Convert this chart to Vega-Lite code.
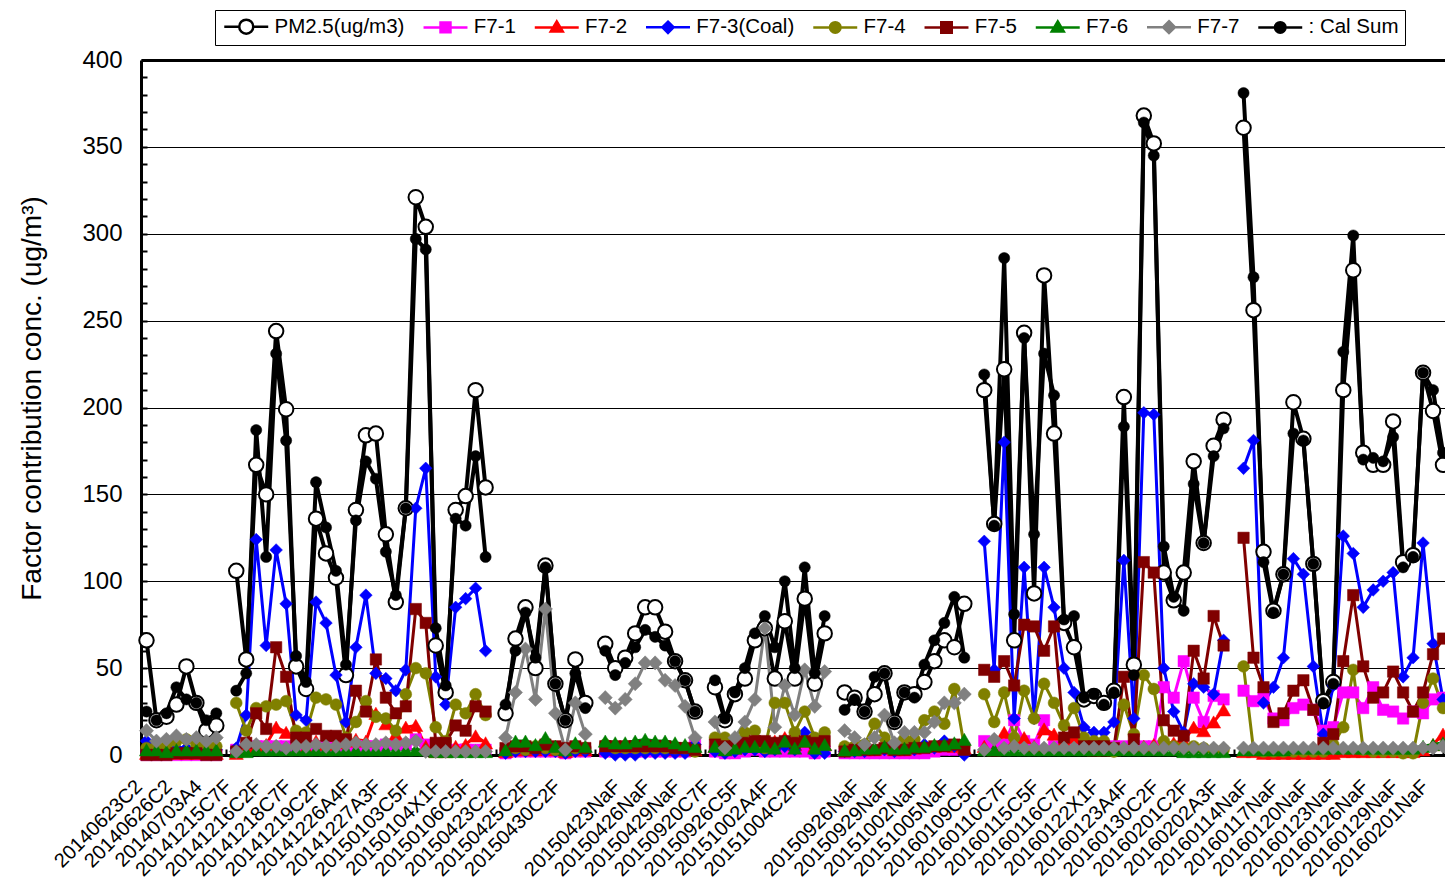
{
  "$schema": "https://vega.github.io/schema/vega-lite/v6.json",
  "width": 1304,
  "height": 695,
  "autosize": {"type": "none"},
  "padding": {"left": 141, "top": 60, "right": 0, "bottom": 127},
  "config": {
    "view": {"stroke": null},
    "font": "Liberation Sans",
    "axis": {"labelFont": "Liberation Sans", "titleFont": "Liberation Sans"},
    "legend": {"labelFont": "Liberation Sans"}
  },
  "data": {"values": [
    {"i":0,"g":1,"s0":66,"s1":0,"s2":1,"s3":8,"s4":4,"s5":0,"s6":3,"s7":14,"s8":25},
    {"i":1,"g":1,"s0":20,"s1":0,"s2":1,"s3":4,"s4":5,"s5":0,"s6":3,"s7":8,"s8":20},
    {"i":2,"g":1,"s0":22,"s1":0,"s2":1,"s3":3,"s4":5,"s5":0,"s6":2,"s7":9,"s8":24},
    {"i":3,"g":1,"s0":29,"s1":0,"s2":1,"s3":4,"s4":8,"s5":1,"s6":3,"s7":11,"s8":39},
    {"i":4,"g":1,"s0":51,"s1":0,"s2":1,"s3":4,"s4":9,"s5":1,"s6":3,"s7":9,"s8":32},
    {"i":5,"g":1,"s0":30,"s1":0,"s2":1,"s3":3,"s4":6,"s5":1,"s6":3,"s7":10,"s8":30},
    {"i":6,"g":1,"s0":14,"s1":0,"s2":1,"s3":3,"s4":6,"s5":0,"s6":3,"s7":8,"s8":20},
    {"i":7,"g":1,"s0":17,"s1":0,"s2":1,"s3":3,"s4":5,"s5":0,"s6":3,"s7":10,"s8":24},
    {"i":9,"g":2,"s0":106,"s1":3,"s2":1,"s3":4,"s4":30,"s5":2,"s6":2,"s7":2,"s8":37},
    {"i":10,"g":2,"s0":55,"s1":4,"s2":4,"s3":23,"s4":14,"s5":7,"s6":2,"s7":6,"s8":47},
    {"i":11,"g":2,"s0":167,"s1":5,"s2":5,"s3":124,"s4":27,"s5":24,"s6":3,"s7":6,"s8":187},
    {"i":12,"g":2,"s0":150,"s1":5,"s2":6,"s3":63,"s4":28,"s5":15,"s6":3,"s7":5,"s8":114},
    {"i":13,"g":2,"s0":244,"s1":5,"s2":16,"s3":118,"s4":29,"s5":62,"s6":3,"s7":5,"s8":231},
    {"i":14,"g":2,"s0":199,"s1":5,"s2":13,"s3":87,"s4":31,"s5":45,"s6":3,"s7":4,"s8":181},
    {"i":15,"g":2,"s0":51,"s1":5,"s2":8,"s3":23,"s4":14,"s5":10,"s6":3,"s7":5,"s8":57},
    {"i":16,"g":2,"s0":38,"s1":5,"s2":4,"s3":20,"s4":13,"s5":10,"s6":3,"s7":5,"s8":42},
    {"i":17,"g":2,"s0":136,"s1":5,"s2":8,"s3":88,"s4":33,"s5":15,"s6":3,"s7":6,"s8":157},
    {"i":18,"g":2,"s0":116,"s1":5,"s2":6,"s3":76,"s4":32,"s5":11,"s6":3,"s7":5,"s8":131},
    {"i":19,"g":2,"s0":102,"s1":5,"s2":7,"s3":46,"s4":29,"s5":11,"s6":3,"s7":5,"s8":106},
    {"i":20,"g":2,"s0":46,"s1":5,"s2":8,"s3":19,"s4":10,"s5":9,"s6":3,"s7":6,"s8":52},
    {"i":21,"g":2,"s0":141,"s1":5,"s2":9,"s3":62,"s4":19,"s5":37,"s6":3,"s7":7,"s8":135},
    {"i":22,"g":2,"s0":184,"s1":5,"s2":8,"s3":92,"s4":31,"s5":25,"s6":3,"s7":6,"s8":169},
    {"i":23,"g":2,"s0":185,"s1":5,"s2":24,"s3":47,"s4":22,"s5":55,"s6":3,"s7":6,"s8":159},
    {"i":24,"g":2,"s0":127,"s1":6,"s2":18,"s3":44,"s4":21,"s5":33,"s6":3,"s7":7,"s8":117},
    {"i":25,"g":2,"s0":88,"s1":6,"s2":12,"s3":37,"s4":14,"s5":24,"s6":3,"s7":6,"s8":92},
    {"i":26,"g":2,"s0":142,"s1":6,"s2":16,"s3":49,"s4":35,"s5":28,"s6":3,"s7":7,"s8":142},
    {"i":27,"g":2,"s0":321,"s1":9,"s2":17,"s3":142,"s4":50,"s5":84,"s6":3,"s7":8,"s8":297},
    {"i":28,"g":2,"s0":304,"s1":6,"s2":5,"s3":165,"s4":47,"s5":76,"s6":3,"s7":2,"s8":291},
    {"i":29,"g":2,"s0":63,"s1":4,"s2":2,"s3":45,"s4":16,"s5":7,"s6":2,"s7":2,"s8":73},
    {"i":30,"g":2,"s0":36,"s1":3,"s2":2,"s3":29,"s4":8,"s5":7,"s6":2,"s7":2,"s8":40},
    {"i":31,"g":2,"s0":141,"s1":3,"s2":5,"s3":85,"s4":29,"s5":17,"s6":2,"s7":2,"s8":136},
    {"i":32,"g":2,"s0":149,"s1":3,"s2":6,"s3":90,"s4":24,"s5":14,"s6":2,"s7":2,"s8":132},
    {"i":33,"g":2,"s0":210,"s1":3,"s2":11,"s3":96,"s4":35,"s5":28,"s6":2,"s7":2,"s8":172},
    {"i":34,"g":2,"s0":154,"s1":3,"s2":7,"s3":60,"s4":23,"s5":25,"s6":2,"s7":2,"s8":114},
    {"i":36,"g":3,"s0":24,"s1":1,"s2":2,"s3":1,"s4":3,"s5":4,"s6":3,"s7":10,"s8":29},
    {"i":37,"g":3,"s0":67,"s1":2,"s2":3,"s3":2,"s4":4,"s5":5,"s6":8,"s7":36,"s8":60},
    {"i":38,"g":3,"s0":85,"s1":2,"s2":3,"s3":2,"s4":3,"s5":5,"s6":8,"s7":61,"s8":82},
    {"i":39,"g":3,"s0":50,"s1":2,"s2":3,"s3":2,"s4":5,"s5":4,"s6":6,"s7":32,"s8":56},
    {"i":40,"g":3,"s0":109,"s1":2,"s2":4,"s3":2,"s4":4,"s5":6,"s6":10,"s7":84,"s8":108},
    {"i":41,"g":3,"s0":41,"s1":2,"s2":3,"s3":2,"s4":3,"s5":5,"s6":5,"s7":24,"s8":41},
    {"i":42,"g":3,"s0":20,"s1":1,"s2":2,"s3":1,"s4":3,"s5":4,"s6":3,"s7":3,"s8":20},
    {"i":43,"g":3,"s0":55,"s1":2,"s2":3,"s3":2,"s4":4,"s5":5,"s6":7,"s7":30,"s8":47},
    {"i":44,"g":3,"s0":30,"s1":2,"s2":3,"s3":2,"s4":4,"s5":4,"s6":5,"s7":12,"s8":27},
    {"i":46,"g":4,"s0":64,"s1":2,"s2":4,"s3":1,"s4":6,"s5":5,"s6":8,"s7":33,"s8":60},
    {"i":47,"g":4,"s0":50,"s1":2,"s2":4,"s3":0,"s4":4,"s5":5,"s6":7,"s7":27,"s8":46},
    {"i":48,"g":4,"s0":56,"s1":2,"s2":4,"s3":0,"s4":4,"s5":5,"s6":7,"s7":32,"s8":53},
    {"i":49,"g":4,"s0":70,"s1":2,"s2":4,"s3":0,"s4":4,"s5":5,"s6":8,"s7":41,"s8":62},
    {"i":50,"g":4,"s0":85,"s1":2,"s2":4,"s3":1,"s4":4,"s5":5,"s6":9,"s7":53,"s8":72},
    {"i":51,"g":4,"s0":85,"s1":2,"s2":4,"s3":1,"s4":4,"s5":5,"s6":8,"s7":53,"s8":68},
    {"i":52,"g":4,"s0":71,"s1":2,"s2":4,"s3":1,"s4":4,"s5":5,"s6":8,"s7":43,"s8":63},
    {"i":53,"g":4,"s0":54,"s1":2,"s2":3,"s3":1,"s4":4,"s5":4,"s6":7,"s7":40,"s8":54},
    {"i":54,"g":4,"s0":43,"s1":2,"s2":3,"s3":1,"s4":4,"s5":4,"s6":6,"s7":28,"s8":43},
    {"i":55,"g":4,"s0":25,"s1":6,"s2":3,"s3":6,"s4":2,"s5":3,"s6":5,"s7":10,"s8":25},
    {"i":57,"g":5,"s0":39,"s1":2,"s2":5,"s3":2,"s4":10,"s5":6,"s6":5,"s7":19,"s8":43},
    {"i":58,"g":5,"s0":20,"s1":1,"s2":4,"s3":1,"s4":10,"s5":5,"s6":3,"s7":4,"s8":21},
    {"i":59,"g":5,"s0":35,"s1":1,"s2":4,"s3":2,"s4":8,"s5":5,"s6":4,"s7":10,"s8":36},
    {"i":60,"g":5,"s0":44,"s1":2,"s2":5,"s3":3,"s4":13,"s5":7,"s6":5,"s7":19,"s8":50},
    {"i":61,"g":5,"s0":66,"s1":3,"s2":6,"s3":3,"s4":14,"s5":8,"s6":5,"s7":32,"s8":70},
    {"i":62,"g":5,"s0":73,"s1":2,"s2":6,"s3":2,"s4":4,"s5":8,"s6":5,"s7":73,"s8":80},
    {"i":63,"g":5,"s0":44,"s1":2,"s2":8,"s3":3,"s4":30,"s5":7,"s6":4,"s7":16,"s8":62},
    {"i":64,"g":5,"s0":77,"s1":2,"s2":10,"s3":5,"s4":30,"s5":8,"s6":8,"s7":40,"s8":100},
    {"i":65,"g":5,"s0":44,"s1":2,"s2":6,"s3":3,"s4":13,"s5":7,"s6":4,"s7":23,"s8":50},
    {"i":66,"g":5,"s0":90,"s1":2,"s2":8,"s3":13,"s4":25,"s5":8,"s6":8,"s7":49,"s8":108},
    {"i":67,"g":5,"s0":41,"s1":1,"s2":5,"s3":1,"s4":10,"s5":7,"s6":4,"s7":28,"s8":47},
    {"i":68,"g":5,"s0":70,"s1":2,"s2":6,"s3":1,"s4":13,"s5":8,"s6":6,"s7":48,"s8":80},
    {"i":70,"g":6,"s0":36,"s1":1,"s2":3,"s3":2,"s4":5,"s5":2,"s6":3,"s7":14,"s8":26},
    {"i":71,"g":6,"s0":33,"s1":1,"s2":3,"s3":2,"s4":5,"s5":3,"s6":3,"s7":10,"s8":32},
    {"i":72,"g":6,"s0":25,"s1":1,"s2":3,"s3":2,"s4":6,"s5":3,"s6":4,"s7":6,"s8":25},
    {"i":73,"g":6,"s0":35,"s1":1,"s2":3,"s3":3,"s4":18,"s5":3,"s6":4,"s7":10,"s8":45},
    {"i":74,"g":6,"s0":47,"s1":1,"s2":4,"s3":3,"s4":10,"s5":4,"s6":5,"s7":23,"s8":47},
    {"i":75,"g":6,"s0":19,"s1":1,"s2":3,"s3":2,"s4":6,"s5":3,"s6":4,"s7":7,"s8":19},
    {"i":76,"g":6,"s0":36,"s1":1,"s2":3,"s3":3,"s4":9,"s5":3,"s6":4,"s7":13,"s8":36},
    {"i":77,"g":6,"s0":35,"s1":1,"s2":4,"s3":3,"s4":9,"s5":4,"s6":5,"s7":13,"s8":33},
    {"i":78,"g":6,"s0":42,"s1":1,"s2":5,"s3":6,"s4":20,"s5":4,"s6":5,"s7":13,"s8":52},
    {"i":79,"g":6,"s0":54,"s1":2,"s2":5,"s3":4,"s4":25,"s5":5,"s6":6,"s7":19,"s8":66},
    {"i":80,"g":6,"s0":66,"s1":3,"s2":6,"s3":8,"s4":18,"s5":5,"s6":6,"s7":30,"s8":76},
    {"i":81,"g":6,"s0":62,"s1":3,"s2":5,"s3":5,"s4":38,"s5":6,"s6":7,"s7":30,"s8":91},
    {"i":82,"g":6,"s0":87,"s1":4,"s2":4,"s3":0,"s4":5,"s5":3,"s6":9,"s7":35,"s8":56},
    {"i":84,"g":7,"s0":210,"s1":8,"s2":5,"s3":123,"s4":35,"s5":49,"s6":3,"s7":3,"s8":219},
    {"i":85,"g":7,"s0":133,"s1":5,"s2":3,"s3":49,"s4":19,"s5":45,"s6":3,"s7":9,"s8":132},
    {"i":86,"g":7,"s0":222,"s1":6,"s2":13,"s3":180,"s4":36,"s5":54,"s6":3,"s7":4,"s8":286},
    {"i":87,"g":7,"s0":66,"s1":20,"s2":8,"s3":21,"s4":10,"s5":40,"s6":3,"s7":5,"s8":81},
    {"i":88,"g":7,"s0":243,"s1":8,"s2":10,"s3":108,"s4":37,"s5":75,"s6":3,"s7":4,"s8":240},
    {"i":89,"g":7,"s0":93,"s1":6,"s2":5,"s3":21,"s4":21,"s5":74,"s6":3,"s7":4,"s8":127},
    {"i":90,"g":7,"s0":276,"s1":20,"s2":15,"s3":108,"s4":41,"s5":60,"s6":3,"s7":4,"s8":231},
    {"i":91,"g":7,"s0":185,"s1":5,"s2":12,"s3":85,"s4":30,"s5":74,"s6":3,"s7":4,"s8":207},
    {"i":92,"g":7,"s0":76,"s1":4,"s2":8,"s3":50,"s4":17,"s5":10,"s6":3,"s7":4,"s8":78},
    {"i":93,"g":7,"s0":62,"s1":4,"s2":10,"s3":36,"s4":27,"s5":13,"s6":3,"s7":4,"s8":80},
    {"i":94,"g":7,"s0":32,"s1":4,"s2":4,"s3":16,"s4":10,"s5":5,"s6":3,"s7":4,"s8":33},
    {"i":95,"g":7,"s0":34,"s1":5,"s2":3,"s3":13,"s4":8,"s5":5,"s6":3,"s7":4,"s8":35},
    {"i":96,"g":7,"s0":30,"s1":5,"s2":3,"s3":13,"s4":8,"s5":5,"s6":3,"s7":4,"s8":29},
    {"i":97,"g":7,"s0":37,"s1":5,"s2":3,"s3":19,"s4":2,"s5":4,"s6":3,"s7":4,"s8":36},
    {"i":98,"g":7,"s0":206,"s1":5,"s2":4,"s3":112,"s4":29,"s5":45,"s6":3,"s7":4,"s8":189},
    {"i":99,"g":7,"s0":52,"s1":5,"s2":5,"s3":21,"s4":12,"s5":9,"s6":3,"s7":4,"s8":46},
    {"i":100,"g":7,"s0":368,"s1":5,"s2":5,"s3":197,"s4":46,"s5":111,"s6":3,"s7":4,"s8":364},
    {"i":101,"g":7,"s0":352,"s1":5,"s2":6,"s3":196,"s4":38,"s5":105,"s6":3,"s7":4,"s8":345},
    {"i":102,"g":7,"s0":105,"s1":39,"s2":7,"s3":50,"s4":8,"s5":20,"s6":3,"s7":4,"s8":120},
    {"i":103,"g":7,"s0":89,"s1":33,"s2":7,"s3":25,"s4":5,"s5":14,"s6":3,"s7":4,"s8":91},
    {"i":104,"g":7,"s0":105,"s1":54,"s2":8,"s3":13,"s4":4,"s5":11,"s6":2,"s7":4,"s8":83},
    {"i":105,"g":7,"s0":169,"s1":33,"s2":16,"s3":41,"s4":5,"s5":60,"s6":2,"s7":4,"s8":156},
    {"i":106,"g":7,"s0":122,"s1":19,"s2":14,"s3":39,"s4":4,"s5":44,"s6":2,"s7":4,"s8":122},
    {"i":107,"g":7,"s0":178,"s1":34,"s2":19,"s3":35,"s4":3,"s5":80,"s6":2,"s7":4,"s8":172},
    {"i":108,"g":7,"s0":193,"s1":32,"s2":26,"s3":66,"s4":3,"s5":63,"s6":2,"s7":4,"s8":188},
    {"i":110,"g":8,"s0":361,"s1":37,"s2":2,"s3":165,"s4":51,"s5":125,"s6":3,"s7":4,"s8":381},
    {"i":111,"g":8,"s0":256,"s1":31,"s2":2,"s3":181,"s4":3,"s5":56,"s6":3,"s7":4,"s8":275},
    {"i":112,"g":8,"s0":117,"s1":33,"s2":1,"s3":30,"s4":2,"s5":39,"s6":3,"s7":4,"s8":111},
    {"i":113,"g":8,"s0":83,"s1":21,"s2":1,"s3":39,"s4":2,"s5":19,"s6":3,"s7":4,"s8":82},
    {"i":114,"g":8,"s0":104,"s1":20,"s2":1,"s3":56,"s4":2,"s5":24,"s6":3,"s7":4,"s8":104},
    {"i":115,"g":8,"s0":203,"s1":27,"s2":1,"s3":113,"s4":2,"s5":37,"s6":4,"s7":4,"s8":185},
    {"i":116,"g":8,"s0":182,"s1":29,"s2":1,"s3":104,"s4":2,"s5":43,"s6":4,"s7":4,"s8":181},
    {"i":117,"g":8,"s0":110,"s1":26,"s2":1,"s3":51,"s4":2,"s5":26,"s6":4,"s7":4,"s8":110},
    {"i":118,"g":8,"s0":31,"s1":14,"s2":1,"s3":12,"s4":2,"s5":7,"s6":4,"s7":4,"s8":30},
    {"i":119,"g":8,"s0":42,"s1":16,"s2":1,"s3":40,"s4":6,"s5":12,"s6":4,"s7":4,"s8":41},
    {"i":120,"g":8,"s0":210,"s1":36,"s2":2,"s3":126,"s4":16,"s5":54,"s6":4,"s7":4,"s8":232},
    {"i":121,"g":8,"s0":279,"s1":36,"s2":2,"s3":116,"s4":49,"s5":92,"s6":4,"s7":4,"s8":299},
    {"i":122,"g":8,"s0":174,"s1":27,"s2":2,"s3":85,"s4":3,"s5":51,"s6":4,"s7":4,"s8":170},
    {"i":123,"g":8,"s0":167,"s1":39,"s2":2,"s3":95,"s4":2,"s5":33,"s6":4,"s7":4,"s8":171},
    {"i":124,"g":8,"s0":167,"s1":26,"s2":2,"s3":100,"s4":2,"s5":36,"s6":4,"s7":4,"s8":169},
    {"i":125,"g":8,"s0":192,"s1":25,"s2":2,"s3":105,"s4":2,"s5":48,"s6":4,"s7":4,"s8":183},
    {"i":126,"g":8,"s0":111,"s1":21,"s2":2,"s3":45,"s4":1,"s5":36,"s6":4,"s7":4,"s8":108},
    {"i":127,"g":8,"s0":115,"s1":25,"s2":2,"s3":56,"s4":1,"s5":25,"s6":4,"s7":4,"s8":114},
    {"i":128,"g":8,"s0":220,"s1":24,"s2":3,"s3":122,"s4":30,"s5":36,"s6":5,"s7":4,"s8":220},
    {"i":129,"g":8,"s0":198,"s1":32,"s2":6,"s3":64,"s4":44,"s5":58,"s6":6,"s7":4,"s8":210},
    {"i":130,"g":8,"s0":167,"s1":33,"s2":12,"s3":32,"s4":27,"s5":67,"s6":7,"s7":5,"s8":174}
  ]},
  "transform": [{"fold": ["s0","s1","s2","s3","s4","s5","s6","s7","s8"], "as": ["key","value"]}],
  "encoding": {
    "x": {
      "field": "i", "type": "quantitative",
      "scale": {"domain": [-0.551, 130.2], "nice": false, "zero": false},
      "axis": {
        "title": null, "grid": false,
        "values": [0,1,2,3,4,5,6,7,8,9,10,11,12,13,14,15,16,17,18,19,20,21,22,23,24,25,26,27,28,29,30,31,32,33,34,35,36,37,38,39,40,41,42,43,44,45,46,47,48,49,50,51,52,53,54,55,56,57,58,59,60,61,62,63,64,65,66,67,68,69,70,71,72,73,74,75,76,77,78,79,80,81,82,83,84,85,86,87,88,89,90,91,92,93,94,95,96,97,98,99,100,101,102,103,104,105,106,107,108,109,110,111,112,113,114,115,116,117,118,119,120,121,122,123,124,125,126,127,128,129,130],
        "labelExpr": "datum.value % 3 == 0 ? ['20140623C2','20140626C2','20140703A4','20141215C7F','20141216C2F','20141218C7F','20141219C2F','20141226A4F','20141227A3F','20150103C5F','20150104X1F','20150106C5F','20150423C2F','20150425C2F','20150430C2F','','20150423NaF','20150426NaF','20150429NaF','20150920C7F','20150926C5F','20151002A4F','20151004C2F','','20150926NaF','20150929NaF','20151002NaF','20151005NaF','20160109C5F','20160110C7F','20160115C5F','20160116C7F','20160122X1F','20160123A4F','20160130C2F','20160201C2F','20160202A3F','20160114NaF','20160117NaF','20160120NaF','20160123NaF','20160126NaF','20160129NaF','20160201NaF'][datum.value / 3] : ''",
        "labelAngle": -45, "labelAlign": "right", "labelBaseline": "top",
        "labelFontSize": 20, "labelColor": "black", "labelPadding": 27, "labelOffset": -15,
        "labelOverlap": false, "labelFlush": false, "labelBound": false,
        "ticks": true, "tickSize": -6, "tickWidth": 2, "tickColor": "black",
        "domainColor": "black", "domainWidth": 3
      }
    },
    "y": {
      "field": "value", "type": "quantitative",
      "scale": {"domain": [0, 400], "nice": false, "zero": true},
      "axis": {
        "values": [0,10,20,30,40,50,60,70,80,90,100,110,120,130,140,150,160,170,180,190,200,210,220,230,240,250,260,270,280,290,300,310,320,330,340,350,360,370,380,390,400],
        "labelExpr": "datum.value % 50 == 0 ? datum.label : ''",
        "labelFontSize": 24, "labelColor": "black", "labelPadding": 25,
        "labelOverlap": false, "labelFlush": false,
        "ticks": true, "tickSize": -6, "tickWidth": 2, "tickColor": "black",
        "domainColor": "black", "domainWidth": 3,
        "grid": true, "gridColor": "black",
        "gridWidth": {"condition": {"test": "datum.value == 400", "value": 3}, "value": 1},
        "gridOpacity": {"condition": {"test": "datum.value % 50 == 0", "value": 1}, "value": 0},
        "title": "Factor contribution conc. (ug/m³)",
        "titleFontSize": 28, "titleFontWeight": "normal", "titleColor": "black",
        "titleX": -109, "titleY": 338, "titleAngle": -90, "titleAlign": "center", "titleBaseline": "middle"
      }
    }
  },
  "layer": [
    {
      "mark": {"type": "line", "strokeJoin": "round"},
      "encoding": {
        "color": {"field": "key", "type": "nominal", "legend": null,
          "scale": {"domain": ["s0","s1","s2","s3","s4","s5","s6","s7","s8"],
                    "range": ["#000000","#FF00FF","#FF0000","#0000FF","#808000","#800000","#008000","#808080","#000000"]}},
        "detail": {"field": "g", "type": "nominal"},
        "strokeWidth": {"condition": {"test": "datum.key == 's0' || datum.key == 's8'", "value": 4}, "value": 3}
      }
    },
    {
      "mark": {"type": "point", "filled": true, "opacity": 1},
      "encoding": {
        "fill": {"field": "key", "type": "nominal", "legend": null,
          "scale": {"domain": ["s0","s1","s2","s3","s4","s5","s6","s7","s8"],
                    "range": ["#FFFFFF","#FF00FF","#FF0000","#0000FF","#808000","#800000","#008000","#808080","#000000"]}},
        "stroke": {"field": "key", "type": "nominal", "legend": null,
          "scale": {"domain": ["s0","s1","s2","s3","s4","s5","s6","s7","s8"],
                    "range": ["#000000","#FF00FF","#FF0000","#0000FF","#808000","#800000","#008000","#808080","#000000"]}},
        "shape": {"field": "key", "type": "nominal", "legend": null,
          "scale": {"domain": ["s0","s1","s2","s3","s4","s5","s6","s7","s8"],
                    "range": ["circle","square","triangle-up","diamond","circle","square","triangle-up","diamond","circle"]}},
        "size": {"condition": [
          {"test": "datum.key == 's0'", "value": 210},
          {"test": "datum.key == 's8'", "value": 125},
          {"test": "datum.key == 's7'", "value": 200},
          {"test": "datum.key == 's3'", "value": 160},
          {"test": "datum.key == 's2' || datum.key == 's6'", "value": 200},
          {"test": "datum.key == 's4'", "value": 140}
        ], "value": 130},
        "strokeWidth": {"condition": {"test": "datum.key == 's0'", "value": 2}, "value": 0.5},
        "order": {"field": "key", "type": "nominal", "sort": "ascending"}
      }
    },
    {
      "transform": [{"filter": "false"}],
      "mark": {"type": "point", "filled": true, "opacity": 1},
      "encoding": {
        "fill": {"field": "key", "type": "nominal",
          "scale": {"domain": ["s0","s1","s2","s3","s4","s5","s6","s7","s8"],
                    "range": ["#FFFFFF","#FF00FF","#FF0000","#0000FF","#808000","#800000","#008000","#808080","#000000"]},
          "legend": {"orient": "none", "legendX": 74, "legendY": -50, "direction": "horizontal", "columns": 9, "title": null,
            "symbolSize": 196, "symbolStrokeWidth": 2.5, "symbolOffset": 15, "labelOffset": 18,
            "labelFontSize": 20.5, "labelColor": "black", "columnPadding": 13.25, "padding": 6,
            "strokeColor": "black", "fillColor": "white",
            "labelExpr": "['PM2.5(ug/m3)','F7-1','F7-2','F7-3(Coal)','F7-4','F7-5','F7-6','F7-7',': Cal Sum'][toNumber(substring(datum.label, 1))]"}},
        "stroke": {"field": "key", "type": "nominal",
          "scale": {"domain": ["s0","s1","s2","s3","s4","s5","s6","s7","s8"],
                    "range": ["#000000","#FF00FF","#FF0000","#0000FF","#808000","#800000","#008000","#808080","#000000"]},
          "legend": {"orient": "none", "legendX": 74, "legendY": -50, "direction": "horizontal", "columns": 9, "title": null,
            "symbolSize": 196, "symbolStrokeWidth": 2.5, "symbolOffset": 15, "labelOffset": 18,
            "labelFontSize": 20.5, "labelColor": "black", "columnPadding": 13.25, "padding": 6,
            "strokeColor": "black", "fillColor": "white",
            "labelExpr": "['PM2.5(ug/m3)','F7-1','F7-2','F7-3(Coal)','F7-4','F7-5','F7-6','F7-7',': Cal Sum'][toNumber(substring(datum.label, 1))]"}},
        "shape": {"field": "key", "type": "nominal",
          "scale": {"domain": ["s0","s1","s2","s3","s4","s5","s6","s7","s8"],
                    "range": [
                      "M-3.14,0H-1M1,0H3.14M-1,0A1,1,0,1,0,1,0A1,1,0,1,0,-1,0Z",
                      "M-3.14,0H3.14M-0.71,-0.71H0.71V0.71H-0.71Z",
                      "M-3.14,0H3.14M0,-0.86L0.86,0.6L-0.86,0.6Z",
                      "M-3.14,0H3.14M0,-0.8L0.8,0L0,0.8L-0.8,0Z",
                      "M-3.14,0H3.14M-0.75,0A0.75,0.75,0,1,0,0.75,0A0.75,0.75,0,1,0,-0.75,0Z",
                      "M-3.14,0H3.14M-0.75,-0.75H0.75V0.75H-0.75Z",
                      "M-3.14,0H3.14M0,-0.86L0.86,0.6L-0.86,0.6Z",
                      "M-3.14,0H3.14M0,-0.85L0.85,0L0,0.85L-0.85,0Z",
                      "M-3.14,0H3.14M-0.75,0A0.75,0.75,0,1,0,0.75,0A0.75,0.75,0,1,0,-0.75,0Z"
                    ]},
          "legend": {"orient": "none", "legendX": 74, "legendY": -50, "direction": "horizontal", "columns": 9, "title": null,
            "symbolSize": 196, "symbolStrokeWidth": 2.5, "symbolOffset": 15, "labelOffset": 18,
            "labelFontSize": 20.5, "labelColor": "black", "columnPadding": 13.25, "padding": 6,
            "strokeColor": "black", "fillColor": "white",
            "labelExpr": "['PM2.5(ug/m3)','F7-1','F7-2','F7-3(Coal)','F7-4','F7-5','F7-6','F7-7',': Cal Sum'][toNumber(substring(datum.label, 1))]"}}
      }
    }
  ],
  "resolve": {"scale": {"color": "independent", "fill": "independent", "stroke": "independent", "shape": "independent", "size": "independent"}}
}
